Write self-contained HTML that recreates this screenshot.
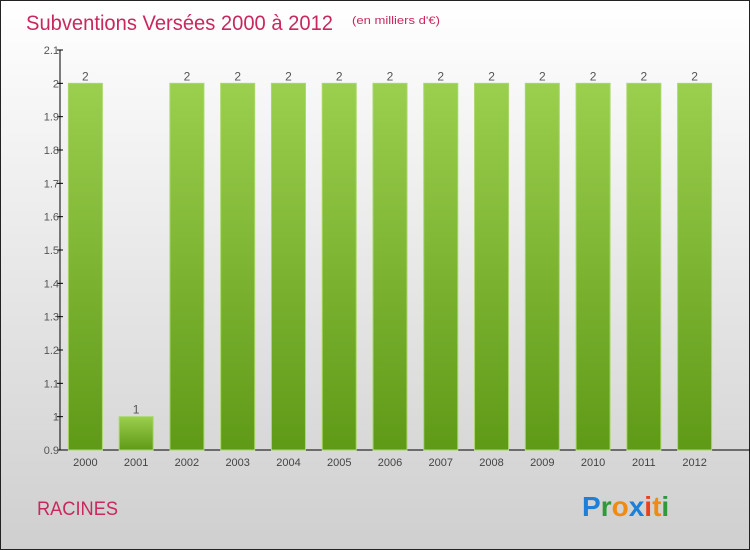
<!DOCTYPE html>
<html><head><meta charset="utf-8"><style>
html,body{margin:0;padding:0}
body{width:750px;height:550px;overflow:hidden;font-family:"Liberation Sans",sans-serif}
#frame{position:absolute;left:0;top:0;width:748px;height:548px;border:1px solid #222;background:linear-gradient(#ffffff,#cfcfcf)}
</style></head><body>
<div id="frame">
<svg width="750" height="550" style="position:absolute;left:-1px;top:-1px">
<defs>
<linearGradient id="g" x1="0" y1="0" x2="0" y2="1"><stop offset="0" stop-color="#9bcf4e"/><stop offset="1" stop-color="#5f9a17"/></linearGradient>
</defs>
<text x="26" y="30" font-size="21" fill="#c8285e" textLength="307" lengthAdjust="spacingAndGlyphs">Subventions Versées 2000 à 2012</text>
<text x="352" y="24" font-size="11" fill="#c8285e" textLength="88" lengthAdjust="spacingAndGlyphs">(en milliers d'€)</text>
<text x="37" y="515" font-size="19" fill="#c8285e" textLength="81" lengthAdjust="spacingAndGlyphs">RACINES</text>
<g font-size="28" font-weight="bold" font-family="'Liberation Sans',sans-serif">
<text x="582" y="516"><tspan fill="#1e7fd6">P</tspan><tspan fill="#2e9a3a">r</tspan><tspan fill="#f08a12">o</tspan><tspan fill="#1e7fd6">x</tspan><tspan fill="#e8421c">i</tspan><tspan fill="#f08a12">t</tspan><tspan fill="#2e9a3a">i</tspan></text>
</g>
<g id="axes"></g>
<g id="bars"></g>
</svg>
</div>
<script>
const categories=["2000","2001","2002","2003","2004","2005","2006","2007","2008","2009","2010","2011","2012"];
const values=[2,1,2,2,2,2,2,2,2,2,2,2,2];
const yTicks=[0.9,1,1.1,1.2,1.3,1.4,1.5,1.6,1.7,1.8,1.9,2,2.1];
const yTickLabels=["0.9","1","1.1","1.2","1.3","1.4","1.5","1.6","1.7","1.8","1.9","2","2.1"];
const NS="http://www.w3.org/2000/svg";
const x0=60,x1=720,yTop=50,yBot=450,yMin=0.9,yMax=2.1;
const y=v=>yBot-(v-yMin)/(yMax-yMin)*(yBot-yTop);
const step=(x1-x0)/categories.length;
const xc=i=>x0+step*(i+0.5);
function mk(t,a,p){const e=document.createElementNS(NS,t);for(const k in a)e.setAttribute(k,a[k]);p.appendChild(e);return e;}
const ax=document.getElementById('axes'),bg=document.getElementById('bars');
const yl=mk('line',{x1:x0,y1:yTop,x2:x0,y2:yBot,stroke:'#000'},ax);


const xl=mk('line',{x1:x0,y1:yBot,x2:750,y2:yBot,stroke:'#000'},ax);


yTicks.forEach((v,i)=>{
  mk('line',{x1:x0-3,y1:y(v),x2:x0+3,y2:y(v),stroke:'#000'},ax);
  const t=mk('text',{x:x0-1,y:y(v)+4,'font-size':11,fill:'#555','text-anchor':'end'},ax);
  t.textContent=yTickLabels[i];
  
  
});
categories.forEach((c,i)=>{
  const t=mk('text',{x:xc(i),y:466,'font-size':11,fill:'#444','text-anchor':'middle'},ax);
  t.textContent=c;
  
  
  const bw=34,top=y(values[i]);
  const r=mk('rect',{x:xc(i)-bw/2,y:top,width:bw,height:yBot-top,fill:'url(#g)',stroke:'#a8d86a','stroke-width':1},bg);
  
  
  const l=mk('text',{x:xc(i),y:top-3,'font-size':12,fill:'#555','text-anchor':'middle'},bg);
  l.textContent=String(values[i]);
  
  
});
</script>
</body></html>
